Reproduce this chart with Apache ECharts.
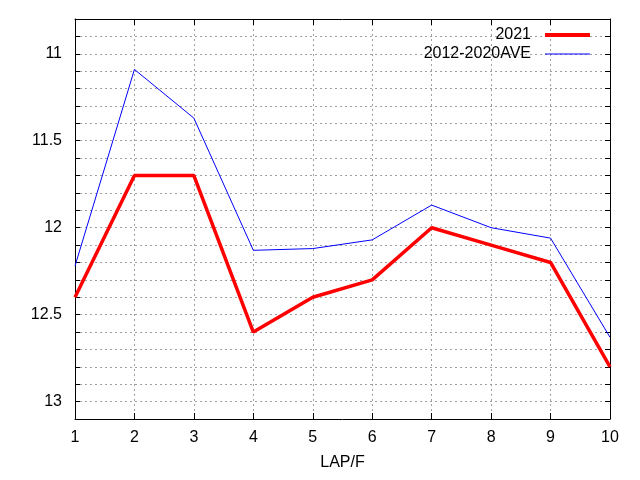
<!DOCTYPE html>
<html><head><meta charset="utf-8">
<script src="https://cdn.jsdelivr.net/npm/echarts@6/dist/echarts.min.js"></script>
<style>html,body{margin:0;padding:0;background:#fff}#c{width:640px;height:480px}</style>
</head><body><div id="c"></div>
<script>
const laps = [1,2,3,4,5,6,7,8,9,10];
const s2021 = [12.4,11.7,11.7,12.6,12.4,12.3,12.0,12.1,12.2,12.8];
const sAve = [12.22,11.09,11.37,12.13,12.12,12.07,11.87,12.0,12.06,12.63];
const seriesNames = ['2021','2012-2020AVE'];
const yTickLabels = [11,11.5,12,12.5,13];
const xTickLabels = laps;

const font = 'Liberation Sans, Arial, sans-serif';
const chart = echarts.init(document.getElementById('c'));
const yBase = {
  type:'value', inverse:true, min:10.8, max:13.1, interval:0.1,
  axisLine:{show:true,lineStyle:{color:'#000',width:1}},
  axisTick:{show:true,inside:true,length:5,lineStyle:{color:'#000'}},
};
const legendBase = {
  orient:'vertical', right:45, align:'right',
  itemWidth:45, icon:'rect',
  textStyle:{fontFamily:font,fontSize:16,color:'#000',padding:[0,9,0,0]}
};
chart.setOption({
  animation:false,
  grid:{left:75,right:30,top:19,bottom:61},
  legend:[
    Object.assign({},legendBase,{top:22,itemHeight:4,data:[seriesNames[0]]}),
    Object.assign({},legendBase,{top:41,itemHeight:1,data:[seriesNames[1]]})
  ],
  xAxis:[{
    type:'value', min:1, max:10, interval:1,
    name:'LAP/F', nameLocation:'middle', nameGap:36,
    nameTextStyle:{fontFamily:font,fontSize:16,color:'#000'},
    axisLine:{show:true,lineStyle:{color:'#000'}},
    axisTick:{show:true,inside:true,length:6,lineStyle:{color:'#000'}},
    axisLabel:{fontFamily:font,fontSize:16,color:'#000',margin:11,
      formatter:v=>xTickLabels.includes(v)?String(v):''},
    splitLine:{show:true,lineStyle:{color:'#a0a0a0',type:[2,3],width:1}}
  },{
    type:'value', position:'top', min:1, max:10, interval:1,
    axisLine:{show:true,lineStyle:{color:'#000'}},
    axisTick:{show:true,inside:true,length:6,lineStyle:{color:'#000'}},
    axisLabel:{show:false}, splitLine:{show:false}
  }],
  yAxis:[Object.assign({},yBase,{
    position:'left',
    axisLabel:{fontFamily:font,fontSize:16,color:'#000',margin:13,
      formatter:v=>{const r=Math.round(v*10)/10;return yTickLabels.some(t=>Math.abs(t-r)<1e-6)?String(r):'';}},
    splitLine:{show:true,lineStyle:{color:'#a0a0a0',type:[2,3],width:1}}
  }),Object.assign({},yBase,{
    position:'right', axisLabel:{show:false}, splitLine:{show:false}
  })],
  series:[{
    name:seriesNames[0], type:'line', showSymbol:false, symbol:'none',
    data:laps.map((x,i)=>[x,s2021[i]]),
    lineStyle:{color:'#ff0000',width:3.5}, itemStyle:{color:'#ff0000'}, z:3
  },{
    name:seriesNames[1], type:'line', showSymbol:false, symbol:'none',
    data:laps.map((x,i)=>[x,sAve[i]]),
    lineStyle:{color:'#0000ff',width:1}, itemStyle:{color:'#0000ff'}, z:2
  }]
});
</script></body></html>
